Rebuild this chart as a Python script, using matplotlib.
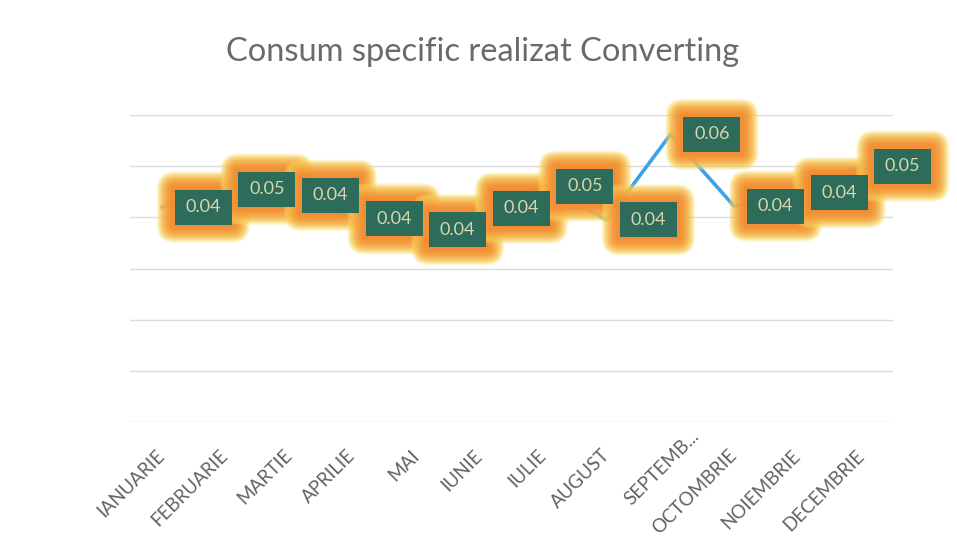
import matplotlib
matplotlib.use("Agg")
import matplotlib.pyplot as plt
import matplotlib.transforms as mtransforms
from matplotlib.patches import FancyBboxPatch, Rectangle
import numpy as np

months = ["IANUARIE", "FEBRUARIE", "MARTIE", "APRILIE", "MAI", "IUNIE",
          "IULIE", "AUGUST", "SEPTEMB...", "OCTOMBRIE", "NOIEMBRIE", "DECEMBRIE"]
values = [0.0420, 0.0455, 0.0443, 0.0397, 0.0376, 0.0418,
          0.0461, 0.0395, 0.0562, 0.0422, 0.0448, 0.0500]
title = "Consum specific realizat Converting"

FONT = ["Lato", "DejaVu Sans"]
plt.rcParams['font.family'] = FONT

W, H = 957, 542
fig = plt.figure(figsize=(W / 100, H / 100), dpi=100)
fig.patch.set_facecolor("white")
ax = fig.add_axes([130 / W, 1 - 422 / H, (893 - 130) / W, (422 - 115) / H])
ax.set_facecolor("white")

x = np.arange(len(months))
ax.set_xlim(-0.5, len(months) - 0.5)
ax.set_ylim(0, 0.06)
ax.set_yticks(np.arange(0, 0.0601, 0.01))
ax.yaxis.grid(True, color="#dadbe0", linewidth=1.0)
ax.set_axisbelow(True)
ax.tick_params(axis="y", length=0, labelleft=False)
ax.tick_params(axis="x", length=0, pad=22)
for s in ax.spines.values():
    s.set_visible(False)

ax.plot(x, values, color="#3ea2e8", linewidth=2.6, solid_capstyle="round", zorder=2)

ax.set_xticks(x)
ax.set_xticklabels(months, rotation=45, ha="right", va="center",
                   rotation_mode="anchor", color="#626262", fontsize=13.5)
for lab in ax.get_xticklabels():
    if lab.get_text().startswith("SEPTEMB"):
        lab.set_transform(lab.get_transform() +
                          mtransforms.ScaledTranslation(0.26, 0.19, fig.dpi_scale_trans))

# data labels with glow (sizes in inches, 1 in = 100 px)
bw, bh, bx = 0.57, 0.35, 0.13
N = 16
c_out = np.array(matplotlib.colors.to_rgb("#f9e060"))
c_in = np.array(matplotlib.colors.to_rgb("#f28a34"))
for xi, v in zip(x, values):
    trans = fig.dpi_scale_trans + mtransforms.ScaledTranslation(xi, v, ax.transData)
    for i in range(N):
        t = i / (N - 1)
        pad = 0.17 * (1 - t) + 0.01
        col = c_out * (1 - t) ** 2.5 + c_in * (1 - (1 - t) ** 2.5)
        p = FancyBboxPatch((bx, -bh / 2), bw, bh,
                           boxstyle=f"round,pad={pad},rounding_size={pad}",
                           transform=trans, facecolor=col, edgecolor="none",
                           alpha=0.28, zorder=3, clip_on=False)
        ax.add_patch(p)
for xi, v in zip(x, values):
    trans = fig.dpi_scale_trans + mtransforms.ScaledTranslation(xi, v, ax.transData)
    ax.add_patch(Rectangle((bx, -bh / 2), bw, bh, transform=trans,
                           facecolor="#2d6c5a", edgecolor="none", zorder=4,
                           clip_on=False))
    ax.text(bx + bw / 2, 0.0, f"{v:.2f}", transform=trans, ha="center", va="center",
            color="#d9d6ae", fontsize=13, zorder=5, clip_on=False)

# title sized to the reference width
tt = fig.text(483 / W, 1 - 52 / H, title, ha="center", va="center",
              color="#6a6a6a", fontsize=20)
fig.canvas.draw()
w = tt.get_window_extent().width
tt.set_fontsize(20 * 514 / w)

fig.savefig("out.png", dpi=100)
